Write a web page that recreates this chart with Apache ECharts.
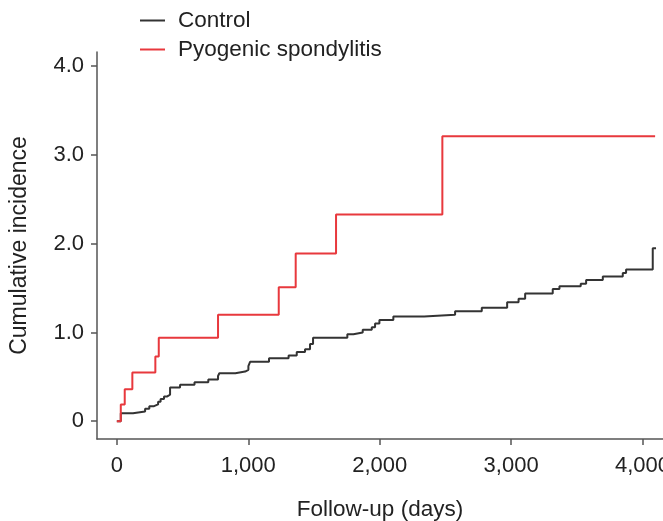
<!DOCTYPE html>
<html>
<head>
<meta charset="utf-8">
<script src="https://cdn.jsdelivr.net/npm/echarts@6/dist/echarts.min.js"></script>
<style>
  html, body { margin: 0; padding: 0; background: #fff; }
  #chart { width: 663px; height: 521px; }
</style>
</head>
<body>
<div id="chart"></div>
<script>
// cumulative incidence step data, [day, value]
const controlDays = [0, 30, 123, 215, 247, 283, 314, 333, 359, 384, 405, 481, 591, 696, 770, 780, 902, 976, 1001, 1014, 1158, 1307, 1369, 1432, 1470, 1493, 1754, 1800, 1871, 1940, 1965, 1998, 2104, 2338, 2574, 2777, 2970, 3057, 3107, 3317, 3368, 3530, 3571, 3698, 3850, 3875, 4078, 4103]
const controlVals = [0, 0.09, 0.11, 0.14, 0.17, 0.19, 0.22, 0.25, 0.28, 0.30, 0.38, 0.41, 0.44, 0.47, 0.51, 0.54, 0.56, 0.58, 0.62, 0.67, 0.71, 0.74, 0.78, 0.81, 0.87, 0.94, 0.98, 1.00, 1.03, 1.06, 1.10, 1.14, 1.18, 1.20, 1.24, 1.28, 1.34, 1.38, 1.44, 1.49, 1.52, 1.55, 1.59, 1.63, 1.67, 1.71, 1.95, 1.95]

const pyoDays = [0, 30, 60, 118, 293, 319, 770, 1232, 1361, 1668, 2477, 4096]
const pyoVals = [0, 0.19, 0.36, 0.55, 0.73, 0.94, 1.20, 1.51, 1.89, 2.33, 3.21, 3.21]

const xTicks = [0, 1000, 2000, 3000, 4000]
const yTicks = [0, 1, 2, 3, 4]

const seriesNames = ['Control', 'Pyogenic spondylitis']

const zip = (xs, ys) => xs.map((x, i) => [x, ys[i]])

const chart = echarts.init(document.getElementById('chart'))
const font = 'Liberation Sans'
const textColor = '#222'
const axisColor = '#555'
const fs = 22

const option = {
  backgroundColor: '#fff',
  animation: false,
  textStyle: { fontFamily: font },
  legend: {
    orient: 'vertical',
    left: 140,
    top: 9,
    padding: 0,
    itemWidth: 25,
    itemHeight: 2,
    itemGap: 6,
    icon: 'rect',
    data: seriesNames,
    textStyle: { fontSize: 22.5, color: textColor, fontFamily: font, padding: [0, 0, 0, 8] }
  },
  grid: { left: 97, top: 52, right: 0, bottom: 82, outerBoundsMode: 'none' },
  xAxis: {
    type: 'value',
    min: -151,
    max: 4156,
    name: 'Follow-up (days)',
    nameLocation: 'middle',
    nameGap: 59,
    nameTextStyle: { fontSize: 22.5, color: textColor, fontFamily: font },
    axisLine: { onZero: false, lineStyle: { color: axisColor, width: 1.5 } },
    axisTick: { show: true, length: 6, customValues: xTicks, lineStyle: { color: axisColor, width: 1.5 } },
    axisLabel: {
      customValues: xTicks,
      fontSize: fs,
      color: textColor,
      margin: 16,
      hideOverlap: false,
      formatter: v => v.toLocaleString('en-US')
    },
    splitLine: { show: false }
  },
  yAxis: {
    type: 'value',
    min: -0.2,
    max: 4.16,
    name: 'Cumulative incidence',
    nameLocation: 'middle',
    nameGap: 66,
    nameTextStyle: { fontSize: 23, color: textColor, fontFamily: font },
    axisLine: { show: true, onZero: false, lineStyle: { color: axisColor, width: 1.5 } },
    axisTick: { show: true, length: 6, customValues: yTicks, lineStyle: { color: axisColor, width: 1.5 } },
    axisLabel: {
      customValues: yTicks,
      fontSize: fs,
      color: textColor,
      margin: 13,
      formatter: v => (v === 0 ? '0' : v.toFixed(1))
    },
    splitLine: { show: false }
  },
  series: [
    {
      name: seriesNames[0],
      type: 'line',
      step: 'end',
      symbol: 'none',
      data: zip(controlDays, controlVals),
      itemStyle: { color: '#333' },
      lineStyle: { color: '#333', width: 2 }
    },
    {
      name: seriesNames[1],
      type: 'line',
      step: 'end',
      symbol: 'none',
      data: zip(pyoDays, pyoVals),
      itemStyle: { color: '#e8383d' },
      lineStyle: { color: '#e8383d', width: 2 }
    }
  ]
}

chart.setOption(option)
</script>
</body>
</html>
